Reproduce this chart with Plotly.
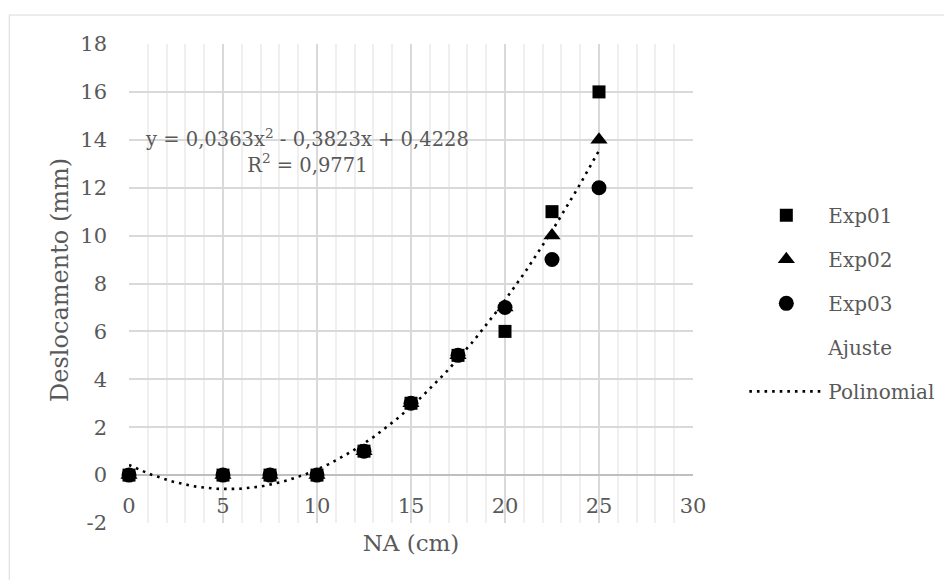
import numpy as np
import plotly.graph_objects as go

# ---- data ----
na_cm = [0, 5, 7.5, 10, 12.5, 15, 17.5, 20, 22.5, 25]
exp01 = [0, 0, 0, 0, 1, 3, 5, 6, 11, 16]
exp02 = [0, 0, 0, 0, 1, 3, 5, 7, 10, 14]
exp03 = [0, 0, 0, 0, 1, 3, 5, 7, 9, 12]
fit_coefs = [0.0363, -0.3823, 0.4228]   # y = a x^2 + b x + c (from the chart)
r2_text = "0,9771"
x_ticks = [0, 5, 10, 15, 20, 25, 30]
y_ticks = [-2, 0, 2, 4, 6, 8, 10, 12, 14, 16, 18]
x_title = "NA (cm)"
y_title = "Deslocamento (mm)"

FONT = "DejaVu Serif"
TXT = "#595959"

fit_x = np.linspace(0, 25, 126)
fit_y = np.polyval(fit_coefs, fit_x)

fig = go.Figure()
fig.add_trace(go.Scatter(x=na_cm, y=exp01, mode="markers", name="Exp01", legendgroup="a",
                         cliponaxis=False,
                         marker=dict(symbol="square", size=13, color="black")))
fig.add_trace(go.Scatter(x=na_cm, y=exp02, mode="markers", name="Exp02", legendgroup="b",
                         cliponaxis=False,
                         marker=dict(symbol="triangle-up", size=15, color="black")))
fig.add_trace(go.Scatter(x=na_cm, y=exp03, mode="markers", name="Exp03", legendgroup="c",
                         cliponaxis=False,
                         marker=dict(symbol="circle", size=15, color="black")))
fig.add_trace(go.Scatter(x=[None], y=[None], mode="lines", name="Ajuste", legendgroup="d",
                         line=dict(width=0, color="rgba(0,0,0,0)"), hoverinfo="skip"))
fig.add_trace(go.Scatter(x=fit_x, y=fit_y, mode="lines", name="Polinomial", legendgroup="e",
                         cliponaxis=False,
                         line=dict(color="black", width=2.6, dash="2.6px,5px"), hoverinfo="skip"))

fig.add_annotation(x=9.45, y=13.52, xref="x", yref="y", showarrow=False, align="center",
                   text="y = %s%s<sup>2</sup> - %s%s + %s<br>R<sup>2</sup> = %s" % (
                       "0,0363", "x", "0,3823", "x", "0,4228", r2_text),
                   font=dict(family=FONT, size=19.5, color=TXT))

# y-axis title
fig.add_annotation(x=-0.1228, y=0.507, xref="paper", yref="paper", showarrow=False,
                   text=y_title, textangle=-90, xanchor="center", yanchor="middle",
                   font=dict(family=FONT, size=24, color=TXT))

# outer chart border
fig.add_shape(type="rect", xref="paper", yref="paper", x0=-0.2123, x1=1.6, y0=-0.2, y1=1.0605,
              line=dict(color="#d9d9d9", width=1), fillcolor="rgba(0,0,0,0)", layer="below")

fig.update_layout(
    width=944, height=572,
    margin=dict(l=121, r=253, t=36, b=57),
    paper_bgcolor="white", plot_bgcolor="white",
    font=dict(family=FONT, size=20, color=TXT),
    showlegend=True,
    legend=dict(x=1.091, xanchor="left", y=0.683, yanchor="top", itemwidth=74,
                tracegroupgap=15, font=dict(family=FONT, size=20, color=TXT),
                bgcolor="rgba(0,0,0,0)"),
    xaxis=dict(range=[0, 30], tickvals=x_ticks, ticktext=[str(v) for v in x_ticks],
               anchor="free", position=0.1, showline=False, zeroline=False,
               showgrid=True, gridcolor="#d9d9d9", gridwidth=1.5,
               minor=dict(dtick=1, showgrid=True, gridcolor="#efefef", gridwidth=1.5),
               ticks="", ticklabelstandoff=16,
               tickfont=dict(family=FONT, size=21, color=TXT),
               title=dict(text=x_title, font=dict(family=FONT, size=23, color=TXT), standoff=17)),
    yaxis=dict(range=[-2, 18], tickvals=y_ticks, ticktext=[str(v) for v in y_ticks],
               showgrid=True, gridcolor="#d9d9d9", gridwidth=1.5,
               zeroline=True, zerolinecolor="#bfbfbf", zerolinewidth=1.5,
               ticks="", ticklabelstandoff=21,
               tickfont=dict(family=FONT, size=21, color=TXT)),
)

fig.write_html("out.html")
